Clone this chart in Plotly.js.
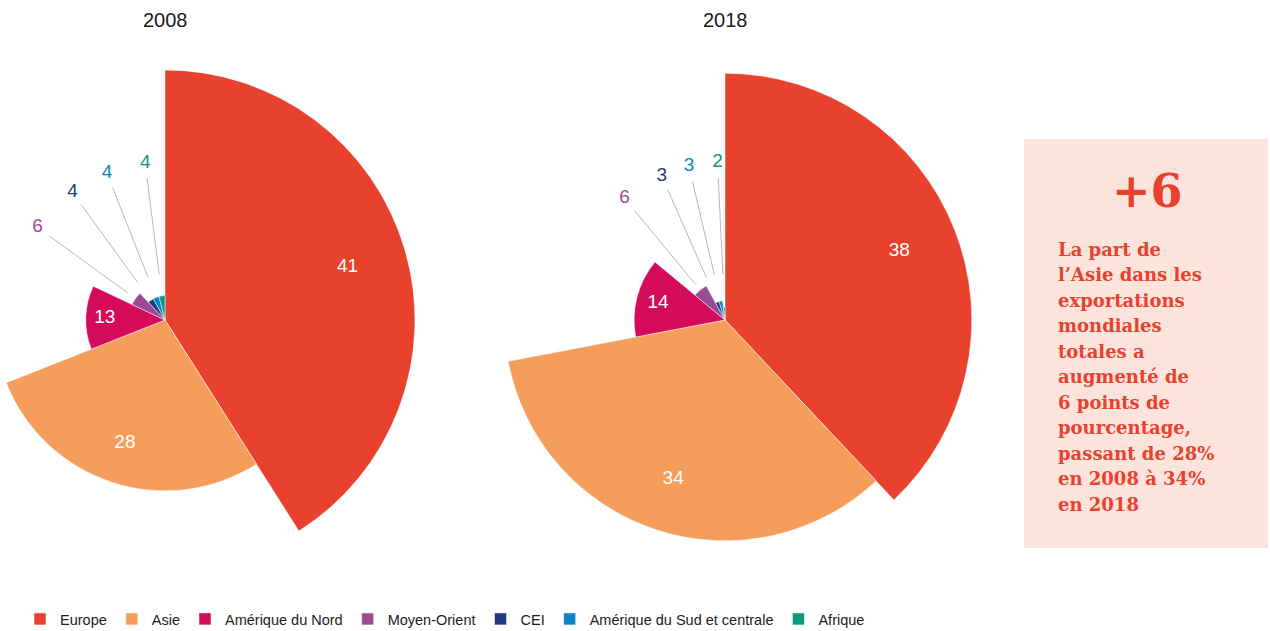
<!DOCTYPE html>
<html><head><meta charset="utf-8">
<script src="https://cdn.plot.ly/plotly-3.0.1.min.js"></script>
<style>
html,body{margin:0;padding:0;overflow:hidden;background:#fff;width:1270px;height:631px}
#chart{position:absolute;left:-100px;top:0;width:1370px;height:670px}
</style>
</head><body><div id="chart"></div>
<script>
const categories = ['Europe','Asie','Amérique du Nord','Moyen-Orient','CEI','Amérique du Sud et centrale','Afrique'];
const values2008 = [41, 28, 13, 6, 4, 4, 4];
const values2018 = [38, 34, 14, 6, 3, 3, 2];
const years = ['2008', '2018'];
const colors = ['#E8412E','#F59E5C','#D40A5A','#9B4B96','#233A80','#0A84C6','#0A9A82'];
const noteTitle = '+6';
const noteLines = ['La part de','l’Asie dans les','exportations','mondiales','totales a','augmenté de','6 points de','pourcentage,','passant de 28%','en 2008 à 34%','en 2018'];

const OFF = 100, W = 1270 + OFF, H = 670;
const X = x => (x + OFF) / W;
const Y = y => 1 - y / H;
const SANS = 'Liberation Sans, Arial, sans-serif';
const SLAB = 'DejaVu Serif, serif';

const panels = [
  {year: years[0], values: values2008, cx: 165, rmax: 41, polar: 'polar'},
  {year: years[1], values: values2018, cx: 725, rmax: 38.5, polar: 'polar2'}
];

function spread(angles, minGap) {
  const a = angles.slice();
  for (let it = 0; it < 20; it++) {
    for (let k = 0; k < a.length - 1; k++) {
      const gap = a[k+1] - a[k];
      if (gap < minGap) { const d = (minGap - gap) / 2; a[k] -= d; a[k+1] += d; }
    }
  }
  return a;
}

const traces = [];
const annotations = [];
const layout = {
  width: W, height: H,
  margin: {l: 0, r: 0, t: 0, b: 0},
  paper_bgcolor: '#fff',
  showlegend: true,
  legend: {orientation: 'h', x: X(20), xanchor: 'left', y: Y(619), yanchor: 'middle',
           font: {family: SANS, size: 14.5, color: '#222'}, itemclick: false, itemdoubleclick: false,
           bgcolor: 'rgba(0,0,0,0)'},
  shapes: [{type: 'rect', xref: 'paper', yref: 'paper', x0: X(1024), x1: X(1268), y0: Y(548), y1: Y(139),
            fillcolor: '#FCE4DC', line: {width: 0}, layer: 'below'}],
  annotations: annotations
};

panels.forEach((p, pi) => {
  const total = p.values.reduce((a, b) => a + b, 0);
  let cum = 0;
  const starts = p.values.map(v => { const s = cum; cum += v; return s; });
  const centers = p.values.map((v, i) => (starts[i] + v / 2) / total * 360);
  const widths = p.values.map(v => v / total * 360);

  categories.forEach((c, i) => {
    traces.push({type: 'barpolar', subplot: p.polar, name: c, legendgroup: c, showlegend: pi === 0,
      r: [p.values[i]], theta: [centers[i]], width: [widths[i]],
      marker: {color: colors[i], line: {color: '#ffffff', width: 0.5}}, hoverinfo: 'skip'});
  });

  const big = p.values.map((v, i) => i).filter(i => p.values[i] >= 10);
  traces.push({type: 'scatterpolar', subplot: p.polar, mode: 'text', showlegend: false, hoverinfo: 'skip',
    r: big.map(i => p.values[i] * 0.76), theta: big.map(i => centers[i]),
    text: big.map(i => String(p.values[i])),
    textfont: {family: SANS, size: 19, color: '#ffffff'}});

  const small = p.values.map((v, i) => i).filter(i => p.values[i] < 10);
  const ang = spread(small.map(i => centers[i]), 10.5);
  small.forEach((i, k) => {
    traces.push({type: 'scatterpolar', subplot: p.polar, mode: 'lines', showlegend: false, hoverinfo: 'skip',
      r: [p.rmax * 0.184, p.rmax * 0.57], theta: [ang[k], ang[k]],
      line: {color: '#b8b8b8', width: 1}});
  });
  traces.push({type: 'scatterpolar', subplot: p.polar, mode: 'text', showlegend: false, hoverinfo: 'skip',
    r: small.map(() => p.rmax * 0.63), theta: ang,
    text: small.map(i => String(p.values[i])),
    textfont: {family: SANS, size: 19, color: small.map(i => colors[i])}});

  layout[p.polar] = {
    domain: {x: [X(p.cx - 250), X(p.cx + 250)], y: [Y(570), Y(70)]},
    bgcolor: 'rgba(0,0,0,0)',
    radialaxis: {visible: false, range: [0, p.rmax]},
    angularaxis: {visible: false, rotation: 90, direction: 'clockwise'}
  };

  annotations.push({xref: 'paper', yref: 'paper', x: X(p.cx), y: Y(20), text: p.year, showarrow: false,
    xanchor: 'center', yanchor: 'middle', font: {family: SANS, size: 20, color: '#1a1a1a'}});
});

annotations.push({xref: 'paper', yref: 'paper', x: X(1147), y: Y(191), text: noteTitle, showarrow: false,
  xanchor: 'center', yanchor: 'middle', font: {family: SLAB, size: 46, color: '#E8412E', weight: 'bold'}});
noteLines.forEach((t, k) => {
  annotations.push({xref: 'paper', yref: 'paper', x: X(1056), y: Y(249 + k * 25.5), text: t, showarrow: false,
    xanchor: 'left', yanchor: 'middle', font: {family: SLAB, size: 18, color: '#E8412E', weight: 'bold'}});
});

Plotly.newPlot('chart', traces, layout, {displayModeBar: false, staticPlot: true});
</script>
</body></html>
